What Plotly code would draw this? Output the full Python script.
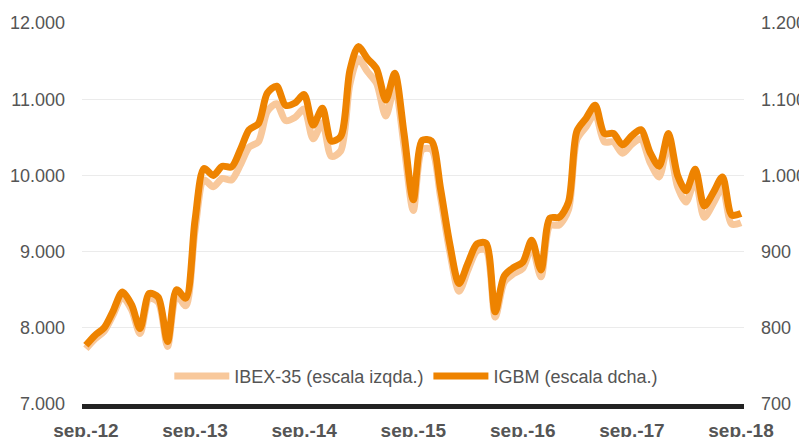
import pandas as pd
import plotly.graph_objects as go

# Monthly data, Sep 2012 - Sep 2018
months = pd.date_range("2012-09-01", "2018-09-01", freq="MS")

ibex = [7725, 7855, 7955, 8170, 8405, 8235, 7925, 8385, 8335, 7755, 8430, 8290,
        9280, 9940, 9850, 9960, 9940, 10150, 10370, 10440, 10840, 10940, 10720, 10760,
        10870, 10480, 10690, 10250, 10320, 11200, 11530, 11360, 11210, 10780, 11160, 10390,
        9540, 10340, 10340, 9720, 9000, 8480, 8750, 9010, 9020, 8140, 8600, 8710,
        8780, 9060, 8670, 9340, 9350, 9550, 10470, 10640, 10810, 10440, 10440, 10290,
        10410, 10480, 10170, 9980, 10420, 9850, 9650, 9940, 9450, 9640, 9840, 9360,
        9380]

igbm = [777, 790, 800, 822, 847, 830, 799, 845, 840, 782, 850, 839,
        941, 1009, 1000, 1012, 1011, 1035, 1060, 1068, 1108, 1117, 1092, 1095,
        1106, 1066, 1088, 1045, 1051, 1138, 1169, 1153, 1140, 1099, 1134, 1055,
        968, 1046, 1045, 983, 910, 858, 884, 910, 911, 821, 868, 879,
        886, 915, 876, 944, 945, 965, 1058, 1075, 1092, 1055, 1055, 1040,
        1052, 1060, 1030, 1012, 1055, 1000, 980, 1008, 960, 978, 998, 948,
        950]

x_tick_vals = ["2012-09-01", "2013-09-01", "2014-09-01", "2015-09-01",
               "2016-09-01", "2017-09-01", "2018-09-01"]
x_tick_text = ["sep.-12", "sep.-13", "sep.-14", "sep.-15", "sep.-16", "sep.-17", "sep.-18"]

left_vals = [7000, 8000, 9000, 10000, 11000, 12000]
left_text = ["7.000", "8.000", "9.000", "10.000", "11.000", "12.000"]
right_vals = [700, 800, 900, 1000, 1100, 1200]
right_text = ["700", "800", "900", "1.000", "1.100", "1.200"]

FONT = "Liberation Sans, Arial, Helvetica, sans-serif"
GRAY = "#555555"
C_IBEX = "#F8C89B"
C_IGBM = "#EE8300"

fig = go.Figure()
fig.add_trace(go.Scatter(
    x=months, y=ibex, name="IBEX-35 (escala izqda.)", mode="lines",
    line=dict(color=C_IBEX, width=7, shape="spline", smoothing=0.8),
    yaxis="y",
))
fig.add_trace(go.Scatter(
    x=months, y=igbm, name="IGBM (escala dcha.)", mode="lines",
    line=dict(color=C_IGBM, width=7, shape="spline", smoothing=0.8),
    yaxis="y2",
))

fig.update_layout(
    width=799, height=429,
    margin=dict(l=74, r=63, t=15, b=33),
    paper_bgcolor="white", plot_bgcolor="white",
    font=dict(family=FONT, color=GRAY, size=18),
    showlegend=True,
    legend=dict(orientation="h", x=0.505, xanchor="center", y=0.073, yanchor="middle",
                font=dict(size=18, color=GRAY), bgcolor="rgba(0,0,0,0)",
                itemwidth=55, tracegroupgap=0),
    xaxis=dict(
        type="date", automargin=False,
        range=["2012-08-19", "2018-09-11"],
        tickvals=x_tick_vals, ticktext=x_tick_text,
        tickfont=dict(family=FONT, size=19, color=GRAY, weight="bold"),
        showgrid=False, zeroline=False,
        showline=True, linecolor="#222222", linewidth=5,
        ticks="", ticklabelstandoff=5,
    ),
    yaxis=dict(
        automargin=False,
        range=[7000, 12000], tickvals=left_vals, ticktext=left_text,
        showgrid=True, gridcolor="#EBEBEB", gridwidth=1,
        zeroline=False, showline=False, ticks="",
        tickfont=dict(family=FONT, size=18, color=GRAY),
        ticklabelstandoff=16,
    ),
    yaxis2=dict(
        automargin=False,
        range=[700, 1200], tickvals=right_vals, ticktext=right_text,
        overlaying="y", side="right",
        showgrid=False, zeroline=False, showline=False, ticks="",
        tickfont=dict(family=FONT, size=18, color=GRAY),
        ticklabelstandoff=16,
    ),
)

fig.write_html("out.html")
